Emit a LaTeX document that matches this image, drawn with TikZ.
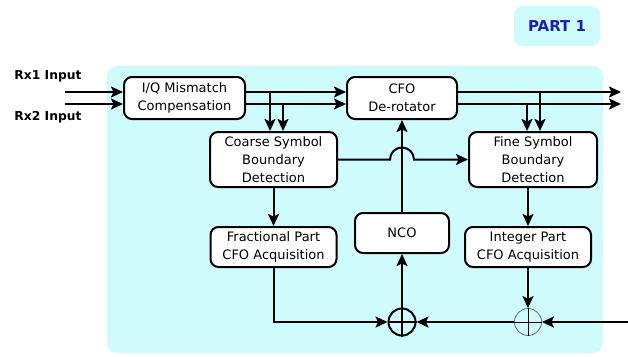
\documentclass[tikz,border=0pt]{standalone}
\usepackage{fontspec}
\setmainfont{DejaVu Sans}
\usetikzlibrary{arrows.meta}
\usetikzlibrary{calc}
\definecolor{bgcyan}{RGB}{206,252,252}
\definecolor{partblue}{RGB}{28,28,190}
\tikzset{
  blk/.style={draw, line width=2pt, fill=white, rounded corners=8pt, align=center, inner sep=2pt, font=\fontsize{13}{18}\selectfont},
  lbl/.style={font=\bfseries\fontsize{12.3}{14}\selectfont},
  partbox/.style={fill=bgcyan, rounded corners=9pt, minimum width=86pt, minimum height=40pt, text=partblue, font=\bfseries\fontsize{15}{17}\selectfont},
  wire/.style={line width=2pt},
  arr/.style={line width=2pt, -{Stealth[length=12pt,width=11pt,inset=2.5pt]}},
  summer/.style={circle, draw, line width=2pt, minimum size=27pt, inner sep=0pt},
}
\begin{document}
\begin{tikzpicture}[x=1pt,y=-1pt]
    \useasboundingbox (0,0) rectangle (628,356);
    \fill [bgcyan, rounded corners=10pt] (107,66) rectangle (603,353);

    \node [partbox] (part) at (557,26) {PART 1};

    \node [lbl] (rx1) at (48,76) {Rx1 Input};
    \node [lbl] (rx2) at (48,117) {Rx2 Input};

    \node [blk, minimum width=121pt, minimum height=42pt] (iq) at (184.5,98) {I/Q Mismatch\\Compensation};
    \node [blk, minimum width=110pt, minimum height=42pt] (cfo) at (402,98) {CFO\\De-rotator};
    \node [blk, minimum width=127pt, minimum height=55pt] (coarse) at (273.5,159.5) {Coarse Symbol\\Boundary\\Detection};
    \node [blk, minimum width=128pt, minimum height=55pt] (fine) at (533,159.5) {Fine Symbol\\Boundary\\Detection};
    \node [blk, minimum width=94pt, minimum height=40pt] (nco) at (402,233) {NCO};
    \node [blk, minimum width=126pt, minimum height=40pt] (frac) at (273.5,247) {Fractional Part\\CFO Acquisition};
    \node [blk, minimum width=126pt, minimum height=40pt] (int) at (528,247) {Integer Part\\CFO Acquisition};

    \node [summer] (s1) at (402,322) {};
    \node [summer, line width=0.8pt, draw=black!60] (s2) at (528,322) {};
    \draw [wire] (s1.north) -- (s1.south) (s1.west) -- (s1.east);
    \draw [line width=1pt] (s2.north) -- (s2.south) (s2.west) -- (s2.east);

    % inputs
    \coordinate (in1) at (65,92);
    \coordinate (in2) at (65,104);
    \draw [arr] (in1) -- (in1 -| iq.west);
    \draw [arr] (in2) -- (in2 -| iq.west);

    \coordinate (a1) at ($(iq.east)+(0,-6)$);
    \coordinate (a2) at ($(iq.east)+(0,6)$);
    \draw [arr] (a1) -- (a1 -| cfo.west);
    \draw [arr] (a2) -- (a2 -| cfo.west);
    \coordinate (b1) at (270,92);
    \coordinate (b2) at (283,104);
    \draw [arr] (b1) -- (b1 |- coarse.north);
    \draw [arr] (b2) -- (b2 |- coarse.north);

    % outputs
    \coordinate (c1) at ($(cfo.east)+(0,-6)$);
    \coordinate (c2) at ($(cfo.east)+(0,6)$);
    \coordinate (out1) at (621,92);
    \coordinate (out2) at (621,104);
    \draw [arr] (c1) -- (out1);
    \draw [arr] (c2) -- (out2);
    \coordinate (d1) at (540,92);
    \coordinate (d2) at (527,104);
    \draw [arr] (d1) -- (d1 |- fine.north);
    \draw [arr] (d2) -- (d2 |- fine.north);

    \draw [arr] (coarse.east) -- ($(coarse.east -| nco)+(-12,0)$) arc (180:360:12) -- (fine.west);
    \draw [arr] (nco.north) -- (cfo.south);
    \draw [arr] (coarse.south) -- (frac.north);
    \draw [arr] (fine.south -| int.north) -- (int.north);

    \draw [arr] (frac.south) |- (s1.west);
    \draw [arr] (s1.north) -- (nco.south);
    \draw [arr] (int.south) -- (s2.north);
    \draw [arr] (s2.west) -- (s1.east);
    \coordinate (cin) at (628,322);
    \draw [arr] (cin) -- (s2.east);
\end{tikzpicture}
\end{document}
